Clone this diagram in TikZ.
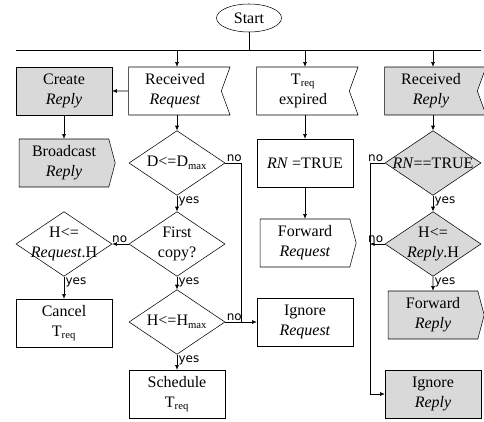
\documentclass[tikz,border=0pt]{standalone}
\usepackage{fontspec}
\setmainfont{Liberation Serif}
\setsansfont{DejaVu Sans}
\usepackage{tikz}
\usetikzlibrary{arrows.meta,shapes.geometric,shapes.symbols}

\definecolor{boxgray}{HTML}{D9D9D9}
\tikzset{
  proc/.style={draw, rectangle, minimum width=72pt, minimum height=36pt, inner sep=1pt, align=center, font=\fontsize{12}{15}\selectfont},
  recv/.style={proc, shape=signal, signal to=nowhere, signal from=east, signal pointer angle=140, minimum width=76pt},
  send/.style={proc, shape=signal, signal to=east, signal pointer angle=150},
  dec/.style={draw, diamond, minimum width=72pt, minimum height=48.5pt, inner sep=0pt},
  dectext/.style={align=center, inner sep=0pt, font=\fontsize{12}{15.5}\selectfont},
  greybox/.style={fill=boxgray},
  lbl/.style={font=\sffamily\fontsize{9}{10}\selectfont, inner sep=1pt},
  flow/.style={-{Latex[length=3.5pt,width=3pt]}}
}

\begin{document}
\begin{tikzpicture}[x=0.75pt,y=0.75pt,yscale=-1,xscale=1]
\useasboundingbox (0,0) rectangle (484,421);

%Shape: Ellipse
\node [draw, ellipse, minimum width=48.75pt, minimum height=21pt, inner sep=1pt, font=\fontsize{12}{15}\selectfont] (start) at (249,18) {Start};
%Straight Lines
\coordinate (bus west) at (16,50);
\coordinate (bus east) at (481,50);
\draw (bus west) -- (bus east);
\draw (start) -- (start |- bus west);

%Shape: Received Request column
\node [recv] (rreq) at (175,91) {Received\\\textit{Request}};
\node [dec] (dmax) at (177,163) {};
\node [dectext] (dmax text) at (dmax) {D<=D\textsubscript{max}};
\node [dec] (first) at (177,244) {};
\node [dectext] (first text) at (first) {First\\copy?};
\node [dec] (hmax) at (177,322) {};
\node [dectext] (hmax text) at (hmax) {H<=H\textsubscript{max}};
\node [proc] (sched) at (177,394) {Schedule\\T\textsubscript{req}};

%Shape: left column
\node [proc, greybox] (creply) at (64,91) {Create\\\textit{Reply}};
\node [send, greybox] (bcast) at (64,163) {Broadcast\\\textit{Reply}};
\node [dec] (hreq) at (64,244) {};
\node [dectext] (hreq text) at (hreq) {H<=\\\textit{Request}.H};
\node [proc] (cancel) at (64,323) {Cancel\\T\textsubscript{req}};

%Shape: timer column
\node [recv] (texp) at (303,91) {T\textsubscript{req}\\expired};
\node [proc] (rnset) at (305,163) {\textit{RN} =TRUE};
\node [send] (fwdreq) at (305,243) {Forward\\\textit{Request}};
\node [proc] (ignreq) at (305,322) {Ignore\\\textit{Request}};

%Shape: Received Reply column
\node [recv, greybox] (rrep) at (431,91) {Received\\\textit{Reply}};
\node [dec, greybox] (rncheck) at (433,163) {};
\node [dectext] (rncheck text) at (rncheck) {\textit{RN}==TRUE};
\node [dec, greybox] (hrep) at (433,244) {};
\node [dectext] (hrep text) at (hrep) {H<=\\\textit{Reply}.H};
\node [send, greybox] (fwdrep) at (433,315) {Forward\\\textit{Reply}};
\node [proc, greybox] (ignrep) at (433,394) {Ignore\\\textit{Reply}};

%Straight Lines: from the bus
\draw [flow] (dmax |- bus west) -- (dmax |- rreq.north);
\draw [flow] (rnset |- bus west) -- (rnset |- texp.north);
\draw [flow] (rncheck |- bus west) -- (rncheck |- rrep.north);

%Straight Lines: request branch
\draw [flow] (rreq) -- (creply);
\draw [flow] (creply) -- (bcast);
\draw [flow] (dmax |- rreq.south) -- (dmax);
\draw [flow] (dmax) -- (first);
\draw [flow] (first) -- (hmax);
\draw [flow] (first) -- (hreq);
\draw [flow] (hreq) -- (cancel);
\draw [flow] (hmax) -- (sched);
\draw [flow] (hmax) -- (ignreq);
\coordinate (join) at (241,322);
\draw (dmax) -| (join);

%Straight Lines: timer branch
\draw [flow] (rnset |- texp.south) -- (rnset);
\draw [flow] (rnset) -- (fwdreq);

%Straight Lines: reply branch
\coordinate (rail) at (370,163);
\draw [flow] (rncheck |- rrep.south) -- (rncheck);
\draw [flow] (rncheck) -- (hrep);
\draw [flow] (hrep) -- (fwdrep);
\draw [flow] (rncheck) -- (rail) -- (rail |- ignrep) -- (ignrep);
\draw [flow] (hrep) -- (hrep -| rail);

% Text Node
\node [lbl, anchor=north west] (yes1) at (dmax.south) {yes};
\node [lbl, anchor=north west] (yes2) at (first.south) {yes};
\node [lbl, anchor=north west] (yes3) at (hreq.south) {yes};
\node [lbl, anchor=north west] (yes4) at (hmax.south) {yes};
\node [lbl, anchor=north west] (yes5) at (rncheck.south) {yes};
\node [lbl, anchor=north west] (yes6) at (hrep.south) {yes};
\node [lbl, anchor=south west] (no1) at (dmax.east) {no};
\node [lbl, anchor=south east] (no2) at (first.west) {no};
\node [lbl, anchor=south west] (no3) at (hmax.east) {no};
\node [lbl, anchor=south east] (no4) at (rncheck.west) {no};
\node [lbl, anchor=south east] (no5) at (hrep.west) {no};

\end{tikzpicture}
\end{document}
